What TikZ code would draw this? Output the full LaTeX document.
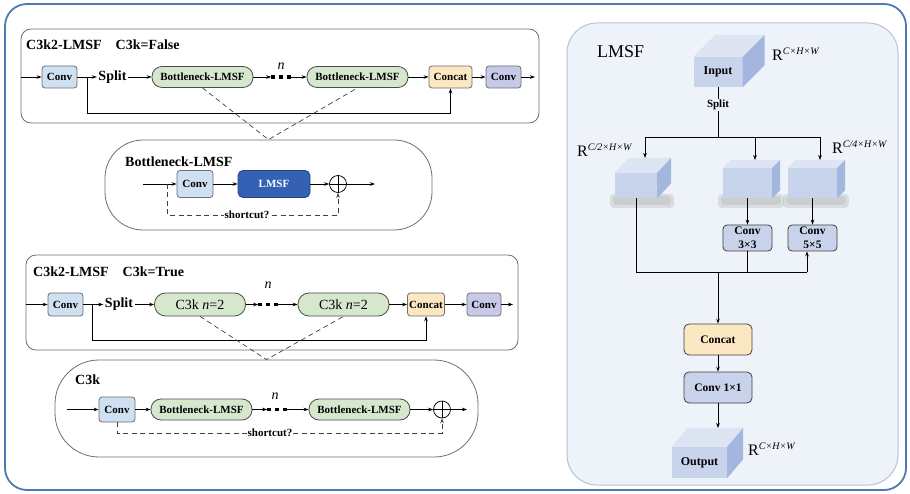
\documentclass[tikz,border=0pt]{standalone}
\usepackage{fontspec}
\setmainfont{Liberation Serif}
\usetikzlibrary{arrows.meta,calc}
\definecolor{convblue}{HTML}{CFE0F1}
\definecolor{convpurp}{HTML}{C6CAE8}
\definecolor{bngreen}{HTML}{D5E8CE}
\definecolor{catorange}{HTML}{FBE7C1}
\definecolor{lmsfblue}{HTML}{3461B3}
\definecolor{rpanel}{HTML}{EEF3F9}
\definecolor{rpanelb}{HTML}{B3C4D9}
\definecolor{outerb}{HTML}{5078B4}
\definecolor{rconv}{HTML}{C8D2EA}
\definecolor{cubefront}{HTML}{C8D4EC}
\definecolor{cubetop}{HTML}{DDE5F3}
\definecolor{cubeside}{HTML}{A3B6DE}
\definecolor{edgegray}{HTML}{6E6E6E}
\newcommand{\fsz}[1]{\fontsize{#1}{#1}\selectfont}
\newcommand{\dotsq}{\rule{3.2pt}{3.2pt}\hspace{4.8pt}\rule{3.2pt}{3.2pt}\hspace{4.8pt}\rule{3.2pt}{3.2pt}}
\newcommand{\rsup}[1]{\raisebox{6pt}{\fsz{10}\itshape #1}}
\newcommand{\mycube}[3]{%
  \fill[cubetop] (#1.north west) -- ++(#2,-#3) -- ($(#1.north east)+(#2,-#3)$) -- (#1.north east) -- cycle;
  \fill[cubeside] (#1.north east) -- ++(#2,-#3) -- ($(#1.south east)+(#2,-#3)$) -- (#1.south east) -- cycle;
}
\begin{document}
\begin{tikzpicture}[x=1pt,y=-1pt,
  arr/.style={-{Stealth[length=5pt,width=3.6pt]},line width=0.75pt},
  ln/.style={line width=0.75pt},
  dsh/.style={dash pattern=on 5pt off 3.5pt,line width=0.7pt,draw=black!75},
  panel/.style={draw=edgegray,line width=0.8pt,fill=white},
  lbox/.style={draw=edgegray,line width=0.8pt,rounded corners=3pt,inner sep=0pt,font=\bfseries\fsz{11}},
  convA/.style={lbox,fill=convblue,minimum width=35pt,minimum height=22pt},
  convB/.style={lbox,fill=convpurp,minimum width=35pt,minimum height=22pt},
  catbox/.style={lbox,fill=catorange,minimum height=22pt},
  bnbox/.style={lbox,fill=bngreen,rounded corners=10pt,minimum width=101pt,minimum height=21pt,draw=black!70},
  c3kbox/.style={lbox,fill=bngreen,rounded corners=11pt,minimum height=23pt,font=\fsz{14},draw=black!70},
  ttl/.style={anchor=west,inner sep=0pt,font=\bfseries\fsz{14}},
  spl/.style={inner sep=1.5pt,font=\bfseries\fsz{14}},
  dotsn/.style={inner sep=0pt},
  nlab/.style={inner sep=0pt,font=\itshape\fsz{14}},
  sc/.style={fill=white,inner sep=1pt,font=\bfseries\fsz{11}},
  oplus/.style={circle,draw=black,line width=0.75pt,minimum size=17pt,inner sep=0pt,fill=white},
  rbox/.style={draw=black!75,line width=0.8pt,rounded corners=4pt,inner sep=0pt,font=\bfseries\fontsize{11.5}{14}\selectfont,align=center},
  cubef/.style={fill=cubefront,inner sep=0pt,font=\bfseries\fsz{12}},
  rlab/.style={anchor=west,inner sep=0pt,font=\fsz{16}},
  shad/.style={fill=black!30,opacity=0.35,rounded corners=4pt},
]
\useasboundingbox (0,0) rectangle (910,494);
% outer frame and right panel
\draw[outerb,line width=1.8pt,rounded corners=22pt] (5,4) rectangle (906,490);
\draw[draw=rpanelb,fill=rpanel,line width=1pt,rounded corners=30pt] (567,23) rectangle (898,485);

% ===== panel 1: C3k=False
\draw[panel,rounded corners=10pt] (21,29) rectangle (539,123);
\node[ttl] (t1) at (26,45) {C3k2-LMSF\hspace{14pt}C3k=False};
\coordinate (a0) at (21,77);
\node[convA] (a1) at (59.5,77) {Conv};
\coordinate (ab) at (87,77);
\node[spl] (as) at (112.5,77) {Split};
\node[bnbox] (ab1) at (202.5,77) {Bottleneck-LMSF};
\node[dotsn] (ad) at (281,77) {\dotsq};
\node[nlab] (an) at (281,66) {n};
\node[bnbox] (ab2) at (357.5,77) {Bottleneck-LMSF};
\node[catbox,minimum width=43pt] (ac) at (450.5,77) {Concat};
\node[convB] (a2) at (503.5,77) {Conv};
\coordinate (aout) at (535,77);
\coordinate (alow) at (87,113);
\draw[arr] (a0) -- (a1);
\draw[ln] (a1) -- (ab);
\draw[arr] (ab) -- (as);
\draw[arr] (as) -- (ab1);
\draw[arr] (ab1) -- (ad);
\draw[arr] (ad) -- (ab2);
\draw[arr] (ab2) -- (ac);
\draw[arr] (ac) -- (a2);
\draw[arr] (a2) -- (aout);
\draw[arr] (ab) -- (alow) -| (ac.south);

% ===== Bottleneck-LMSF panel
\node[panel,rounded corners=38pt,minimum width=327pt,minimum height=90pt,inner sep=0pt] (bp) at (268.5,185) {};
\draw[dsh] (ab1.south) -- (bp.north) -- (ab2.south);
\node[ttl] (bt) at (125,162) {Bottleneck-LMSF};
\coordinate (b0) at (143,184);
\coordinate (bb) at (167,184);
\node[convA,minimum width=36pt,minimum height=27pt] (b1) at (195,184) {Conv};
\node[lbox,fill=lmsfblue,draw=lmsfblue!70!black,text=white,minimum width=72pt,minimum height=27pt,rounded corners=5pt] (b2) at (274,184) {LMSF};
\node[oplus] (bo) at (338,184) {};
\draw[ln] (bo.north) -- (bo.south) (bo.west) -- (bo.east);
\coordinate (bout) at (375,184);
\coordinate (blow) at (167,215);
\draw[arr] (b0) -- (b1);
\draw[arr] (b1) -- (b2);
\draw[arr] (b2) -- (bo);
\draw[arr] (bo) -- (bout);
\draw[dsh,arr] (bb) -- (blow) -| (bo.south);
\node[sc] (bsc) at (247,215) {shortcut?};

% ===== panel 2: C3k=True
\draw[panel,rounded corners=10pt] (26,255) rectangle (518,350);
\node[ttl] (t2) at (33,272) {C3k2-LMSF\hspace{14pt}C3k=True};
\coordinate (p0) at (26,304.5);
\node[convA,minimum width=35pt,minimum height=23pt] (p1) at (65.5,304.5) {Conv};
\coordinate (pb) at (92,304.5);
\node[spl] (ps) at (119,304.5) {Split};
\node[c3kbox,minimum width=91pt] (pk1) at (200,304.5) {C3k \textit{n}=2};
\node[dotsn] (pd) at (268,304.5) {\dotsq};
\node[nlab] (pn) at (268,285) {n};
\node[c3kbox,minimum width=91pt] (pk2) at (343.5,304.5) {C3k \textit{n}=2};
\node[catbox,minimum width=37pt,minimum height=23pt] (pc) at (426,304.5) {Concat};
\node[convB,minimum width=34pt,minimum height=23pt] (p2) at (484,304.5) {Conv};
\coordinate (pout) at (513,304.5);
\coordinate (plow) at (92,340);
\draw[arr] (p0) -- (p1);
\draw[ln] (p1) -- (pb);
\draw[arr] (pb) -- (ps);
\draw[arr] (ps) -- (pk1);
\draw[arr] (pk1) -- (pd);
\draw[arr] (pd) -- (pk2);
\draw[arr] (pk2) -- (pc);
\draw[arr] (pc) -- (p2);
\draw[arr] (p2) -- (pout);
\draw[arr] (pb) -- (plow) -| (pc.south);

% ===== C3k panel
\node[panel,rounded corners=44pt,minimum width=423pt,minimum height=97pt,inner sep=0pt] (cp) at (266.5,408.5) {};
\draw[dsh] (pk1.south) -- (cp.north) -- (pk2.south);
\node[ttl] (ct) at (75,380) {C3k};
\coordinate (c0) at (67,409.5);
\node[convA,minimum width=36pt,minimum height=25pt] (c1) at (117,409.5) {Conv};
\node[bnbox] (cb1) at (201.5,409.5) {Bottleneck-LMSF};
\node[dotsn] (cd) at (277,409.5) {\dotsq};
\node[nlab] (cn) at (275,396) {n};
\node[bnbox] (cb2) at (359.5,409.5) {Bottleneck-LMSF};
\node[oplus] (co) at (442,409.5) {};
\draw[ln] (co.north) -- (co.south) (co.west) -- (co.east);
\coordinate (cout) at (467,409.5);
\coordinate (clow) at (117,433);
\draw[arr] (c0) -- (c1);
\draw[arr] (c1) -- (cb1);
\draw[arr] (cb1) -- (cd);
\draw[arr] (cd) -- (cb2);
\draw[arr] (cb2) -- (co);
\draw[arr] (co) -- (cout);
\draw[dsh,arr] (c1.south) -- (clow) -| (co.south);
\node[sc] (csc) at (270,433) {shortcut?};

% ===== LMSF right panel
\node[rlab,font=\fsz{18}] (lt) at (597,52) {LMSF};
\node[cubef,minimum width=49pt,minimum height=30pt] (in) at (718,72) {Input};
\mycube{in}{22}{22}
\node[rlab] (rin) at (772,54) {R\rsup{C×H×W}};
\coordinate (sj) at (718,137);
\draw[ln] (in.south) -- (sj);
\node[fill=rpanel,inner sep=1.5pt,font=\bfseries\fsz{11}] (spr) at (718,105) {Split};
\coordinate (hl) at (645,137);
\coordinate (hm) at (755,137);
\coordinate (hr) at (820,137);
\draw[ln] (hl) -- (hr);
% shadows
\fill[shad] (610,194) rectangle (674,208);
\fill[shad] (613,196) rectangle (671,205);
\fill[shad] (718,194) rectangle (784,208);
\fill[shad] (721,196) rectangle (781,205);
\fill[shad] (783,194) rectangle (849,208);
\fill[shad] (786,196) rectangle (846,205);
% cubes
\node[cubef,minimum width=42pt,minimum height=25pt] (lc) at (636,185.5) {};
\mycube{lc}{14}{15}
\node[cubef,minimum width=49pt,minimum height=30pt] (mc) at (747.5,183) {};
\mycube{mc}{8}{8}
\node[cubef,minimum width=49pt,minimum height=30pt] (rc) at (812.5,183) {};
\mycube{rc}{8}{8}
\coordinate (lct) at (645,158);
\coordinate (mct) at (755,160);
\coordinate (rct) at (820,160);
\draw[arr] (hl) -- (lct);
\draw[arr] (hm) -- (mct);
\draw[arr] (hr) -- (rct);
\node[rlab] (rl) at (577,150) {R\rsup{C/2×H×W}};
\node[rlab] (rr) at (832,147) {R\rsup{C/4×H×W}};
% convs
\node[rbox,fill=rconv,minimum width=49pt,minimum height=26pt] (k3) at (747.5,238) {Conv\\3×3};
\node[rbox,fill=rconv,minimum width=49pt,minimum height=26pt] (k5) at (812.5,238) {Conv\\5×5};
\draw[arr] (mc.south) -- (k3.north);
\draw[arr] (rc.south) -- (k5.north);
\coordinate (bl) at (636,272);
\coordinate (bm) at (718,272);
\coordinate (b3) at (747.5,272);
\coordinate (br) at (807,272);
\draw[ln] (lc.south) -- (bl) -- (br);
\draw[arr] (br) -- (br |- k5.south);
\draw[ln] (k3.south) -- (b3);
\node[rbox,fill=catorange,minimum width=68pt,minimum height=31pt,rounded corners=5pt] (cat) at (718,339.5) {Concat};
\node[rbox,fill=rconv,minimum width=68pt,minimum height=31pt,rounded corners=5pt] (k1) at (718,387.5) {Conv 1×1};
\draw[arr] (bm) -- (cat.north);
\draw[arr] (cat) -- (k1);
\node[cubef,minimum width=55pt,minimum height=31pt] (out) at (699.5,462.5) {Output};
\mycube{out}{16}{19}
\coordinate (ot) at (718,428);
\draw[arr] (k1) -- (ot);
\node[rlab] (rout) at (748,449) {R\rsup{C×H×W}};
\end{tikzpicture}
\end{document}
